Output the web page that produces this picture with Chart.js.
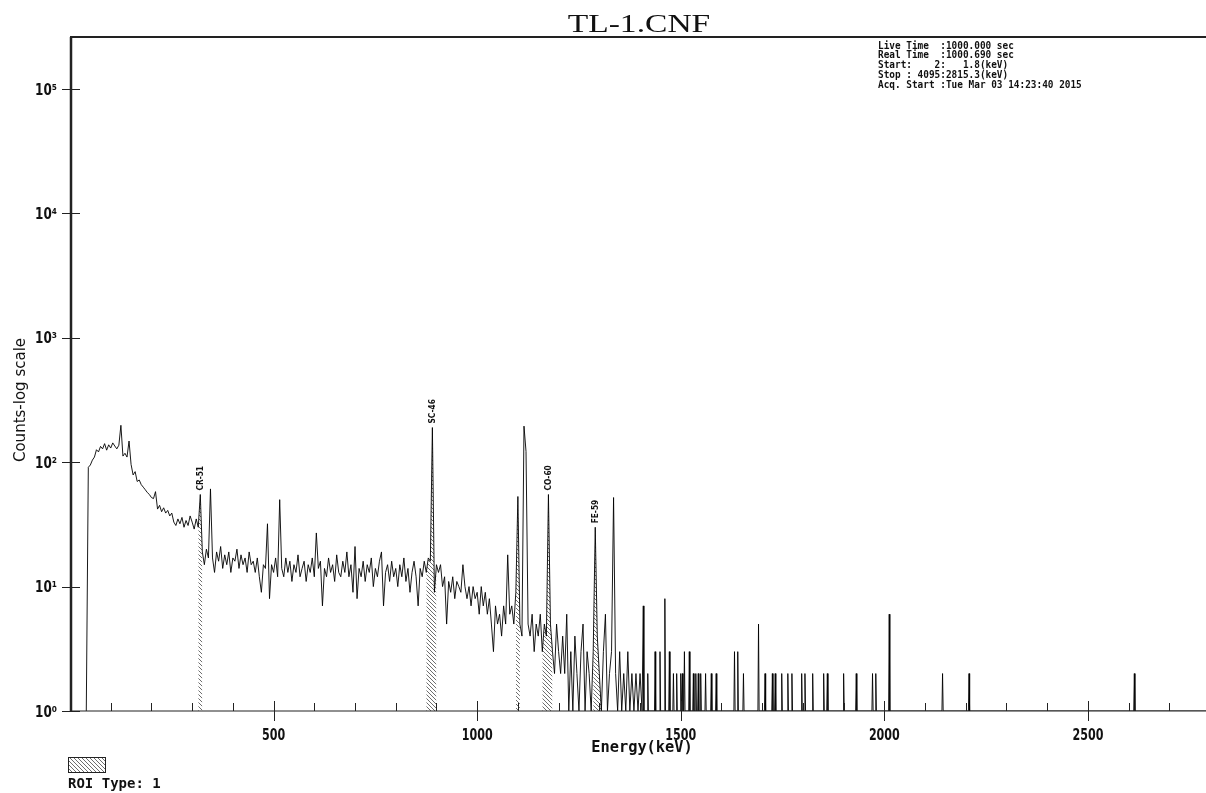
<!DOCTYPE html>
<html lang="en">
<head>
<meta charset="UTF-8">
<title>TL-1.CNF</title>
<script src="https://cdn.jsdelivr.net/npm/chart.js@4.4.1/dist/chart.umd.min.js"></script>
<style>
  html, body { margin: 0; padding: 0; background: #fff; }
  canvas { display: block; }
</style>
</head>
<body>
<canvas id="spectrum" width="1206" height="793"></canvas>
<script>
// counts per 5 keV bin, first bin at 40 keV
const binStart = 40;
const binWidth = 5;
const counts = [
  1, 91, 95, 104, 110, 126, 121, 134, 128, 141, 125, 138, 130, 143, 135, 128, 137, 198, 112, 118,   // 40
  110, 148, 96, 79, 84, 70, 72, 66, 63, 60, 57, 55, 52, 51, 58, 42, 45, 40, 43, 39,                 // 140
  41, 37, 39, 33, 31, 35, 32, 36, 30, 34, 31, 37, 33, 29, 35, 30, 55, 19, 15, 20,                   // 240
  17, 61, 17, 13, 19, 16, 21, 14, 18, 15, 19, 13, 17, 16, 20, 14, 18, 15, 17, 13,                   // 340
  19, 15, 16, 13, 17, 12, 9, 15, 14, 32, 8, 15, 13, 17, 12, 50, 14, 12, 17, 13,                     // 440
  16, 11, 15, 13, 18, 12, 14, 16, 11, 15, 13, 17, 12, 27, 14, 16, 7, 14, 12, 17,                    // 540
  13, 15, 11, 18, 13, 12, 16, 13, 19, 12, 15, 9, 21, 8, 14, 12, 16, 11, 15, 13,                     // 640
  17, 10, 14, 12, 16, 19, 7, 13, 15, 11, 16, 12, 14, 10, 15, 12, 17, 11, 14, 9,                     // 740
  13, 16, 12, 7, 14, 12, 16, 13, 17, 16, 190, 9, 15, 13, 15, 10, 12, 5, 11, 9,                      // 840
  12, 8, 11, 10, 9, 15, 10, 8, 10, 7, 10, 8, 9, 6, 10, 7, 9, 6, 8, 5,                               // 940
  3, 7, 5, 6, 4, 7, 5, 18, 6, 7, 5, 9, 53, 5, 4, 195, 122, 5, 4, 6,                                 // 1040
  3, 5, 4, 6, 3, 5, 4, 55, 5, 3, 2, 5, 3, 2, 4, 2, 6, 1, 3, 1,                                      // 1140
  4, 2, 1, 3, 5, 1, 3, 2, 1, 3, 30, 4, 2, 1, 3, 6, 1, 2, 3, 52,                                     // 1240
  2, 1, 3, 1, 2, 1, 3, 1, 2, 1, 2, 1, 2, 1                                                          // 1340
];

// isolated channels above the dense part (keV / counts)
const tailEnergy = [1408, 1419, 1437, 1449, 1461, 1472, 1482, 1490, 1500, 1504, 1509, 1521, 1531, 1537,
  1543, 1549, 1561, 1575, 1587, 1632, 1640, 1654, 1691, 1707, 1725, 1732, 1748, 1763, 1773, 1797,
  1805, 1824, 1851, 1860, 1900, 1931, 1971, 1979, 2012, 2143, 2208, 2614];
const tailCounts = [7, 2, 3, 3, 8, 3, 2, 2, 2, 2, 3, 3, 2, 2,
  2, 2, 2, 2, 2, 3, 3, 2, 5, 2, 2, 2, 2, 2, 2, 2,
  2, 2, 2, 2, 2, 2, 2, 2, 6, 2, 2, 2];

// ROI windows in keV
const roiLow = [315, 875, 1095, 1160, 1285];
const roiHigh = [325, 900, 1105, 1185, 1305];

// identified peaks
const peakNames = ['CR-51', 'SC-46', 'CO-60', 'FE-59'];
const peakEnergy = [320, 890, 1175, 1290];

const xMax = 2790;
const xMajorTicks = [500, 1000, 1500, 2000, 2500];
const yTickValues = [1, 10, 100, 1000, 10000, 100000];
const yTickLabels = ['10⁰', '10¹', '10²', '10³', '10⁴', '10⁵'];

const infoLines = [
  'Live Time  :1000.000 sec',
  'Real Time  :1000.690 sec',
  'Start:    2:   1.8(keV)',
  'Stop : 4095:2815.3(keV)',
  'Acq. Start :Tue Mar 03 14:23:40 2015'
];

const spectrum = counts.map((c, i) => ({ x: binStart + i * binWidth, y: c }));
tailEnergy.forEach((e, i) => {
  spectrum.push({ x: e - 1.5, y: 1 }, { x: e, y: tailCounts[i] }, { x: e + 1.5, y: 1 });
});
spectrum.push({ x: xMax, y: 1 });

function makeHatch() {
  const c = document.createElement('canvas');
  c.width = 4; c.height = 4;
  const g = c.getContext('2d');
  g.fillStyle = '#fff';
  g.fillRect(0, 0, 4, 4);
  g.strokeStyle = '#6e6e6e';
  g.lineWidth = 1;
  g.beginPath();
  g.moveTo(0, 0); g.lineTo(4, 4);
  g.moveTo(-1, 3); g.lineTo(1, 5);
  g.moveTo(3, -1); g.lineTo(5, 1);
  g.stroke();
  return g.createPattern(c, 'repeat');
}
const hatch = makeHatch();

const roiSets = roiLow.map((lo, k) => ({
  data: spectrum.filter(p => p.x >= lo && p.x <= roiHigh[k]),
  borderWidth: 0,
  pointRadius: 0,
  fill: 'start',
  backgroundColor: hatch,
  order: 2
}));

function putText(ctx, str, x, y, o) {
  ctx.save();
  ctx.translate(x, y);
  if (o.angle) ctx.rotate(o.angle);
  ctx.scale(o.sx || 1, o.sy || 1);
  ctx.font = o.font;
  ctx.fillStyle = o.color || '#111';
  ctx.textAlign = o.align || 'left';
  ctx.textBaseline = o.baseline || 'alphabetic';
  ctx.fillText(str, 0, 0);
  ctx.restore();
}

function line(ctx, x1, y1, x2, y2) {
  ctx.beginPath();
  ctx.moveTo(x1, y1);
  ctx.lineTo(x2, y2);
  ctx.stroke();
}

const tickFont = 'bold 15px "DejaVu Sans"';

// axes, tick marks and all the loose text of the report page
const decor = {
  id: 'decor',
  afterDraw(chart) {
    const { ctx, chartArea: a, scales: { x, y } } = chart;
    ctx.save();
    ctx.strokeStyle = '#222';

    ctx.lineWidth = 2;
    line(ctx, a.left, a.top, a.right, a.top);
    ctx.lineWidth = 2.5;
    line(ctx, a.left + 1, a.top, a.left + 1, a.bottom);
    ctx.lineWidth = 1.2;
    line(ctx, a.left, a.bottom, a.right, a.bottom);

    ctx.lineWidth = 1;
    yTickValues.forEach(v => {
      const py = Math.round(y.getPixelForValue(v)) + 0.5;
      line(ctx, a.left - 8, py, a.left + 10, py);
    });
    xMajorTicks.forEach(v => {
      const px = Math.round(x.getPixelForValue(v)) + 0.5;
      line(ctx, px, a.bottom - 10, px, a.bottom + 10);
    });
    for (let v = 100; v < xMax; v += 100) {
      if (v % 500 === 0) continue;
      const px = Math.round(x.getPixelForValue(v)) + 0.5;
      line(ctx, px, a.bottom - 8, px, a.bottom);
    }
    ctx.restore();

    // tick labels, placed by the scales
    xMajorTicks.forEach(v => {
      putText(ctx, String(v), x.getPixelForValue(v), 740, { font: tickFont, sx: 0.74, align: 'center' });
    });
    yTickValues.forEach((v, i) => {
      putText(ctx, yTickLabels[i], 57, y.getPixelForValue(v) + 5.5, { font: tickFont, sx: 0.8, align: 'right' });
    });

    putText(ctx, 'TL-1.CNF', 639, 32, { font: '26px "Liberation Serif"', sx: 1.29, align: 'center' });
    putText(ctx, 'Counts-log scale', 25, 400, { font: '15px "DejaVu Sans"', angle: -Math.PI / 2, sx: 1, align: 'center' });
    putText(ctx, 'Energy(keV)', 642, 752, { font: 'bold 16px "DejaVu Sans Mono"', sx: 0.96, align: 'center' });

    infoLines.forEach((s, i) => {
      putText(ctx, s, 878, 48.5 + i * 9.75, { font: 'bold 9.6px "DejaVu Sans Mono"', sx: 0.98 });
    });

    peakNames.forEach((name, k) => {
      const c = counts[(peakEnergy[k] - binStart) / binWidth];
      const px = x.getPixelForValue(peakEnergy[k]);
      const py = y.getPixelForValue(c) - 4;
      putText(ctx, name, px, py, { font: 'bold 9.5px "DejaVu Sans"', angle: -Math.PI / 2, sx: 0.78, baseline: 'middle' });
    });

    // ROI legend
    ctx.save();
    ctx.fillStyle = hatch;
    ctx.fillRect(68.5, 757.5, 37, 15);
    ctx.strokeStyle = '#222';
    ctx.lineWidth = 1;
    ctx.strokeRect(68.5, 757.5, 37, 15);
    ctx.restore();
    putText(ctx, 'ROI Type: 1', 68, 788, { font: 'bold 14px "DejaVu Sans Mono"' });
  }
};

new Chart(document.getElementById('spectrum'), {
  type: 'line',
  data: {
    datasets: [{
      data: spectrum,
      borderColor: 'rgba(0,0,0,0.9)',
      borderWidth: 1,
      pointRadius: 0,
      fill: false,
      tension: 0,
      order: 1
    }, ...roiSets]
  },
  options: {
    responsive: false,
    animation: false,
    devicePixelRatio: 1,
    layout: { padding: { top: 37, left: 0, right: 0, bottom: 0 } },
    plugins: { legend: { display: false }, tooltip: { enabled: false }, title: { display: false } },
    scales: {
      x: {
        type: 'linear',
        min: 0,
        max: xMax,
        grid: { display: false },
        border: { display: false },
        afterBuildTicks: s => { s.ticks = xMajorTicks.map(v => ({ value: v })); },
        afterFit: s => { s.height = 82; },
        ticks: { display: false }
      },
      y: {
        type: 'logarithmic',
        min: 1,
        max: 262000,
        grid: { display: false },
        border: { display: false },
        afterBuildTicks: s => { s.ticks = yTickValues.map(v => ({ value: v })); },
        afterFit: s => { s.width = 70; },
        ticks: { display: false }
      }
    }
  },
  plugins: [decor]
});
</script>
</body>
</html>
